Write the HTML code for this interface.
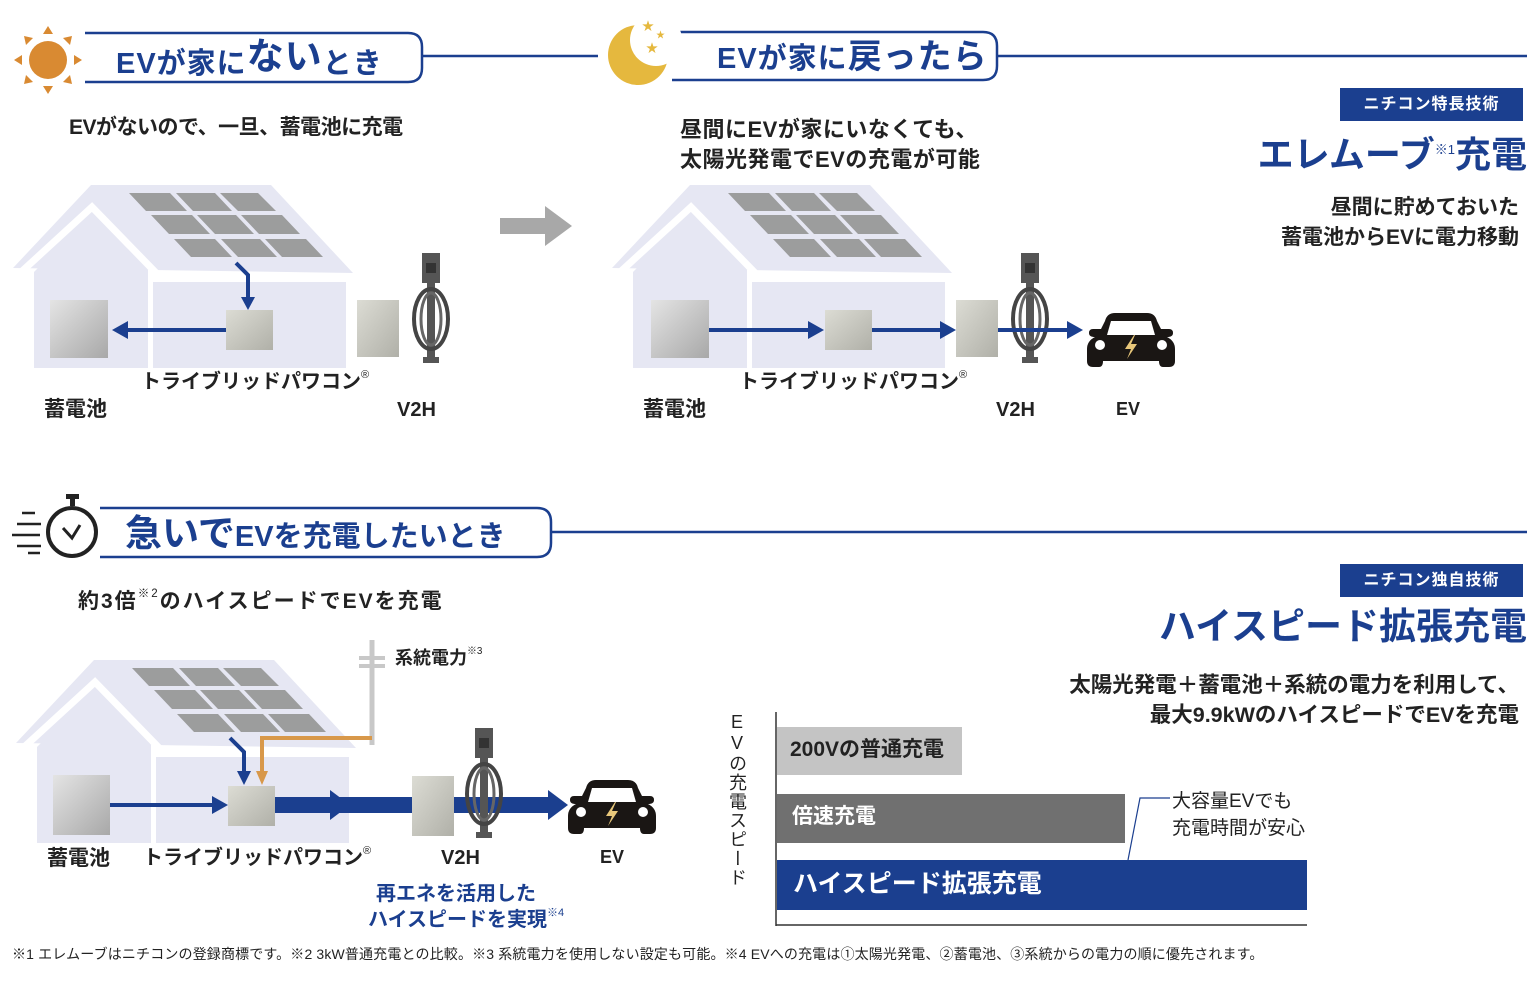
<!DOCTYPE html>
<html><head><meta charset="utf-8"><style>
*{margin:0;padding:0;box-sizing:border-box}
body{width:1540px;height:1000px;background:#fff;position:relative;overflow:hidden;font-family:"Liberation Sans","Noto Sans CJK JP",sans-serif;color:#222}
.t{position:absolute;white-space:nowrap;font-weight:700;line-height:1}
.b{color:#1b3f8f}
sup{font-size:55%;font-weight:400;vertical-align:top;position:relative;top:-2px}
.badge{position:absolute;background:#1b3f8f;color:#fff;font-weight:700;font-size:16px;text-align:center;line-height:33px;letter-spacing:1px}
</style></head><body>
<svg width="1540" height="1000" style="position:absolute;left:0;top:0">
<defs>
<linearGradient id="bat" x1="0" y1="0" x2="1" y2="1"><stop offset="0" stop-color="#e4e4e4"/><stop offset="1" stop-color="#a8a8a8"/></linearGradient>
<linearGradient id="pcs" x1="0" y1="0" x2="1" y2="1"><stop offset="0" stop-color="#dcdcd4"/><stop offset="1" stop-color="#b0b0a8"/></linearGradient>
<g id="house">
<polygon points="13,268 91,185 271,185 353,273" fill="#e6e7f3"/>
<polyline points="19,274 92,207 161,278 353,278" fill="none" stroke="#fff" stroke-width="7"/>
<polygon points="34,272 92,214 148,270 148,368 34,368" fill="#e6e7f3"/>
<rect x="153" y="282" width="193" height="86" fill="#e6e7f3"/>
<g fill="#9c9d9d">
<polygon points="129,193 170,193 187,211 146,211"/><polygon points="176,193 215,193 232,211 193,211"/><polygon points="220,193 258,193 276,211 238,211"/>
<polygon points="151,215 192,215 210,234 169,234"/><polygon points="197,215 236,215 254,234 215,234"/><polygon points="241,215 282,215 300,234 259,234"/>
<polygon points="174,239 215,239 232,257 191,257"/><polygon points="221,239 260,239 277,257 238,257"/><polygon points="265,239 306,239 323,257 282,257"/>
</g>
</g>
<g id="charger">
<rect x="-9" y="0" width="18" height="30" fill="#555"/><rect x="-5" y="10" width="10" height="10" fill="#333"/>
<rect x="-4" y="28" width="8" height="80" fill="#555"/>
<ellipse cx="0" cy="66" rx="17" ry="30" fill="none" stroke="#444" stroke-width="4"/>
<ellipse cx="0" cy="66" rx="10" ry="26" fill="none" stroke="#666" stroke-width="3"/>
<rect x="-8" y="104" width="16" height="6" fill="#555"/>
</g>
<g id="car">
<path d="M18,10 Q20,2 28,2 L60,2 Q68,2 70,10 L74,18 L82,18 Q86,18 86,22 Q86,26 80,26 L80,26 Q88,30 88,38 L88,50 Q88,56 82,56 L76,56 Q72,56 72,50 L16,50 Q16,56 12,56 L6,56 Q0,56 0,50 L0,38 Q0,30 8,26 Q2,26 2,22 Q2,18 6,18 L14,18 Z" fill="#1a1614"/>
<path d="M20,24 L24,10 L64,10 L68,24 Z" fill="#fff"/>
<circle cx="13" cy="34" r="5" fill="#fff"/><circle cx="75" cy="34" r="5" fill="#fff"/>
<polygon points="47,24 38,38 44,38 40,48 50,33 44,33 48,24" fill="#e8c77a"/>
</g>
</defs>
<g fill="none" stroke="#1b3f8f" stroke-width="2.5">
<path d="M85,33 H408 Q422,33 422,47 V68 Q422,82 408,82 H85"/>
<line x1="422" y1="56" x2="598" y2="56"/>
<path d="M672,32 H983 Q997,32 997,46 V66 Q997,80 983,80 H672"/>
<line x1="997" y1="56" x2="1527" y2="56"/>
<path d="M100,508 H537 Q551,508 551,522 V543 Q551,557 537,557 H100"/>
<line x1="551" y1="532" x2="1527" y2="532"/>
</g>
<circle cx="48" cy="60" r="19" fill="#d98a32"/>
<g fill="#d98a32">
<polygon points="48,26 43,34 53,34"/><polygon points="48,94 43,86 53,86"/>
<polygon points="14,60 22,55 22,65"/><polygon points="82,60 74,55 74,65"/>
<polygon points="24,36 33,38 26,45"/><polygon points="72,36 63,38 70,45"/>
<polygon points="24,84 33,82 26,75"/><polygon points="72,84 63,82 70,75"/>
</g>
<circle cx="638" cy="55" r="30" fill="#e5b83e"/>
<circle cx="656" cy="40" r="26" fill="#fff"/>
<g fill="#e5b83e" font-size="12"><text x="642" y="30">★</text><text x="656" y="38" font-size="9">★</text><text x="646" y="52">★</text></g>
<circle cx="72" cy="532" r="24" fill="none" stroke="#222" stroke-width="4"/>
<rect x="66" y="494" width="13" height="5" fill="#222"/><rect x="70" y="498" width="5" height="8" fill="#222"/>
<polyline points="63,528 72,538 80,525" fill="none" stroke="#222" stroke-width="3"/>
<g stroke="#222" stroke-width="2.5"><line x1="22" y1="513" x2="35" y2="513"/><line x1="17" y1="524" x2="41" y2="524"/><line x1="12" y1="535" x2="40" y2="535"/><line x1="17" y1="546" x2="41" y2="546"/><line x1="28" y1="553" x2="40" y2="553"/></g>
<use href="#house"/>
<use href="#house" x="599"/>
<use href="#house" x="3" y="475"/>
<polygon points="500,218 545,218 545,206 572,226 545,246 545,234 500,234" fill="#a8a8a8"/>
<rect x="50" y="300" width="58" height="58" fill="url(#bat)"/>
<rect x="226" y="310" width="47" height="40" fill="url(#pcs)"/>
<rect x="357" y="300" width="42" height="57" fill="url(#pcs)"/>
<use href="#charger" x="431" y="253"/>
<g stroke="#1b3f8f" stroke-width="4" fill="none"><polyline points="236,263 248,275 248,298"/><line x1="226" y1="330" x2="128" y2="330"/></g>
<g fill="#1b3f8f"><polygon points="241,297 255,297 248,310"/><polygon points="112,330 128,321 128,339"/></g>
<rect x="651" y="300" width="58" height="58" fill="url(#bat)"/>
<rect x="825" y="310" width="47" height="40" fill="url(#pcs)"/>
<rect x="956" y="300" width="42" height="57" fill="url(#pcs)"/>
<use href="#charger" x="1030" y="253"/>
<g stroke="#1b3f8f" stroke-width="4"><line x1="709" y1="330" x2="810" y2="330"/><line x1="872" y1="330" x2="942" y2="330"/><line x1="998" y1="330" x2="1068" y2="330"/></g>
<g fill="#1b3f8f"><polygon points="824,330 808,321 808,339"/><polygon points="956,330 940,321 940,339"/><polygon points="1083,330 1067,321 1067,339"/></g>
<use href="#car" x="1087" y="311"/>
<line x1="372" y1="640" x2="372" y2="745" stroke="#c8c8c8" stroke-width="5"/>
<rect x="359" y="656" width="26" height="4" fill="#c8c8c8"/><rect x="359" y="664" width="26" height="4" fill="#c8c8c8"/>
<rect x="53" y="775" width="57" height="60" fill="url(#bat)"/>
<rect x="228" y="786" width="47" height="40" fill="url(#pcs)"/>
<g stroke="#1b3f8f" stroke-width="4" fill="none"><polyline points="230,738 244,752 244,772"/><line x1="110" y1="805" x2="215" y2="805"/></g>
<polyline points="372,738 262,738 262,772" fill="none" stroke="#d8984a" stroke-width="4"/>
<polygon points="256,771 268,771 262,785" fill="#d8984a"/>
<polygon points="237,771 251,771 244,785" fill="#1b3f8f"/>
<polygon points="228,805 212,796 212,814" fill="#1b3f8f"/>
<rect x="275" y="797" width="280" height="16" fill="#1b3f8f"/>
<polygon points="330,790 350,805 330,820" fill="#1b3f8f"/>
<polygon points="548,790 568,805 548,820" fill="#1b3f8f"/>
<rect x="412" y="776" width="42" height="60" fill="url(#pcs)"/>
<use href="#charger" x="484" y="728"/>
<use href="#car" x="568" y="778"/>
<line x1="776" y1="712" x2="776" y2="926" stroke="#333" stroke-width="1.5"/>
<line x1="776" y1="925" x2="1307" y2="925" stroke="#333" stroke-width="1.5"/>
<rect x="777" y="727" width="185" height="48" fill="#c4c4c4"/>
<rect x="777" y="794" width="348" height="49" fill="#707070"/>
<rect x="777" y="860" width="530" height="50" fill="#1b3f8f"/>
<polyline points="1128,860 1140,798 1170,798" fill="none" stroke="#1b3f8f" stroke-width="1.2"/>
</svg>

<div class="t b" style="left:116px;top:42px;font-size:29px;letter-spacing:1px">EVが家に<span style="font-size:37px;position:relative;top:-4px">ない</span>とき</div>
<div class="t b" style="left:717px;top:40px;font-size:29px;letter-spacing:1px">EVが家に<span style="font-size:34px;">戻ったら</span></div>
<div class="t b" style="left:125px;top:515px;font-size:37px">急いで<span style="font-size:29px">EVを充電したいとき</span></div>

<div class="t" style="left:69px;top:117px;font-size:21px;letter-spacing:-0.5px">EVがないので、一旦、蓄電池に充電</div>
<div class="t" style="left:680px;top:115px;font-size:22px;line-height:30px;letter-spacing:0.5px">昼間にEVが家にいなくても、<br>太陽光発電でEVの充電が可能</div>
<div class="t" style="left:78px;top:591px;font-size:21px;letter-spacing:2px">約3倍<sup>※2</sup>のハイスピードでEVを充電</div>

<div class="t" style="left:141px;top:372px;font-size:20px">トライブリッドパワコン<sup>®</sup></div>
<div class="t" style="left:44px;top:399px;font-size:21px">蓄電池</div>
<div class="t" style="left:397px;top:400px;font-size:20px">V2H</div>
<div class="t" style="left:739px;top:372px;font-size:20px">トライブリッドパワコン<sup>®</sup></div>
<div class="t" style="left:643px;top:399px;font-size:21px">蓄電池</div>
<div class="t" style="left:996px;top:400px;font-size:20px">V2H</div>
<div class="t" style="left:1116px;top:400px;font-size:18px">EV</div>

<div class="t" style="left:395px;top:649px;font-size:18px">系統電力<sup>※3</sup></div>
<div class="t" style="left:47px;top:848px;font-size:21px">蓄電池</div>
<div class="t" style="left:143px;top:848px;font-size:20px">トライブリッドパワコン<sup>®</sup></div>
<div class="t" style="left:441px;top:848px;font-size:20px">V2H</div>
<div class="t" style="left:600px;top:848px;font-size:18px">EV</div>
<div class="t b" style="left:376px;top:884px;font-size:20px">再エネを活用した</div>
<div class="t b" style="left:368px;top:910px;font-size:20px">ハイスピードを実現<sup>※4</sup></div>

<div class="badge" style="left:1340px;top:88px;width:183px;height:33px">ニチコン特長技術</div>
<div class="t b" style="right:13px;top:137px;font-size:36px">エレムーブ<sup style="font-size:13px;top:6px">※1</sup>充電</div>
<div class="t" style="right:21px;top:193px;font-size:21px;text-align:right;line-height:30px">昼間に貯めておいた<br>蓄電池からEVに電力移動</div>

<div class="badge" style="left:1340px;top:564px;width:183px;height:33px">ニチコン独自技術</div>
<div class="t b" style="right:13px;top:608px;font-size:37px">ハイスピード拡張充電</div>
<div class="t" style="right:21px;top:670px;font-size:21.5px;text-align:right;line-height:30px">太陽光発電＋蓄電池＋系統の電力を利用して、<br>最大9.9kWのハイスピードでEVを充電</div>

<div class="t" style="left:728px;top:712px;font-size:18px;font-weight:400;writing-mode:vertical-rl;text-orientation:upright;line-height:18px;letter-spacing:1px">EVの充電スピード</div>
<div class="t" style="left:790px;top:739px;font-size:21px;color:#222">200Vの普通充電</div>
<div class="t" style="left:792px;top:806px;font-size:21px;color:#fff">倍速充電</div>
<div class="t" style="left:793px;top:872px;font-size:25px;color:#fff">ハイスピード拡張充電</div>
<div class="t" style="left:1172px;top:788px;font-size:19px;font-weight:400;line-height:27px">大容量EVでも<br>充電時間が安心</div>

<div class="t" style="left:12px;top:947px;font-size:14px;font-weight:400;letter-spacing:0.15px">※1 エレムーブはニチコンの登録商標です。※2 3kW普通充電との比較。※3 系統電力を使用しない設定も可能。※4 EVへの充電は①太陽光発電、②蓄電池、③系統からの電力の順に優先されます。</div>
</body></html>
